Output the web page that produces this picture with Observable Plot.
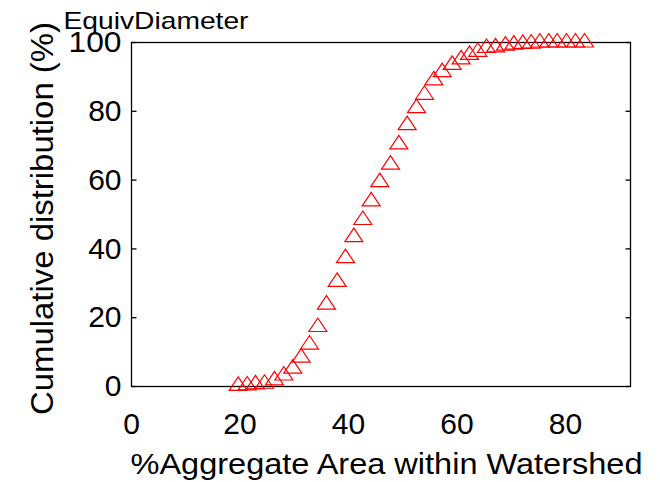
<!DOCTYPE html>
<html>
<head>
<meta charset="utf-8">
<script src="https://cdn.jsdelivr.net/npm/d3@7"></script>
<script src="https://cdn.jsdelivr.net/npm/@observablehq/plot@0.6"></script>
<style>
  html, body { margin: 0; padding: 0; background: #ffffff; }
  #chart { width: 660px; height: 482px; overflow: hidden; }
</style>
</head>
<body>
<div id="chart"></div>
<script>
// Data
const areaPct = [19.67, 21.33, 22.86, 24.52, 26.36, 28.09, 29.74, 31.28, 32.82, 34.35,
                 35.95, 37.92, 39.45, 40.99, 42.65, 44.19, 45.78, 47.75, 49.29, 50.82,
                 52.54, 54.02, 55.74, 57.28, 59.12, 60.78, 62.32, 63.85, 65.45, 67.11,
                 68.95, 70.49, 72.15, 73.69, 75.28, 76.94, 78.48, 80.20, 81.86, 83.52];
const cumDist = [0.2, 0.3, 0.6, 0.8, 1.8, 3.2, 5.2, 8.4, 12.2, 17.3,
                 23.8, 30.4, 37.3, 43.4, 48.4, 53.8, 59.4, 64.5, 70.4, 76.0,
                 80.9, 84.8, 89.0, 91.4, 93.5, 95.1, 96.4, 97.3, 98.4, 98.6,
                 99.1, 99.4, 99.6, 99.7, 100, 100, 100, 100, 100, 100];
const xTicks = [0, 20, 40, 60, 80];
const yTicks = [0, 20, 40, 60, 80, 100];
const titleText = "EquivDiameter";
const xLabel = "%Aggregate Area within Watershed";
const yLabel = "Cumulative distribution (%)";

const points = areaPct.map((x, i) => ({x, y: cumDist[i]}));

// MATLAB-like open triangle marker (centroid at the data point)
const triangle = {
  draw(ctx) {
    const w = 18, h = 13.5;
    ctx.moveTo(0, -2 * h / 3);
    ctx.lineTo(w / 2, h / 3);
    ctx.lineTo(-w / 2, h / 3);
    ctx.closePath();
  }
};
const tickLeft = {draw(ctx) { ctx.moveTo(0, 0); ctx.lineTo(5, 0); }};
const tickRight = {draw(ctx) { ctx.moveTo(0, 0); ctx.lineTo(-5, 0); }};

const font = "'Liberation Sans', Arial, Helvetica, sans-serif";

const chart = Plot.plot({
  width: 660,
  height: 482,
  marginLeft: 131,
  marginRight: 30,
  marginTop: 42,
  marginBottom: 96,
  style: {fontFamily: font, background: "#ffffff", color: "#000000"},
  x: {domain: [0, 92], ticks: xTicks, label: null},
  y: {domain: [0, 100], ticks: yTicks, label: null},
  marks: [
    Plot.axisX({ticks: xTicks, tickSize: 0, tickPadding: 26, fontSize: 30, label: null}),
    Plot.axisY({ticks: yTicks, tickSize: 0, tickPadding: 10, fontSize: 30, label: null}),
    Plot.frame({stroke: "#000000", strokeWidth: 1.3}),
    Plot.dot(yTicks, {y: d => d, frameAnchor: "left", symbol: tickLeft, stroke: "#000000", strokeWidth: 1.3}),
    Plot.dot(yTicks, {y: d => d, frameAnchor: "right", symbol: tickRight, stroke: "#000000", strokeWidth: 1.3}),
    Plot.dot(points, {x: "x", y: "y", symbol: triangle, stroke: "#ff0000", strokeWidth: 1.2, fill: "none"}),
    Plot.text([titleText], {frameAnchor: "top-left", textAnchor: "start", lineAnchor: "bottom",
      dx: -68, dy: -14, fontSize: 24, fill: "#000000"}),
    Plot.text([xLabel], {frameAnchor: "bottom-left", textAnchor: "start", lineAnchor: "bottom",
      dx: -1, dy: 87, fontSize: 30, fill: "#000000"}),
    Plot.text([yLabel], {frameAnchor: "left", textAnchor: "middle", lineAnchor: "bottom", rotate: -90,
      dx: -79, dy: 4, fontSize: 31, fill: "#000000"})
  ]
});

document.getElementById("chart").appendChild(chart);
// Stretch texts horizontally like the reference
const stretch = {};
stretch[titleText] = 185;
stretch[xLabel] = 512;
stretch[yLabel] = 393;
stretch["100"] = 53;
d3.select(chart).selectAll("text").each(function() {
  const t = this.textContent;
  if (stretch[t] !== undefined) {
    this.setAttribute("textLength", stretch[t]);
    this.setAttribute("lengthAdjust", "spacingAndGlyphs");
  }
});
</script>
</body>
</html>
